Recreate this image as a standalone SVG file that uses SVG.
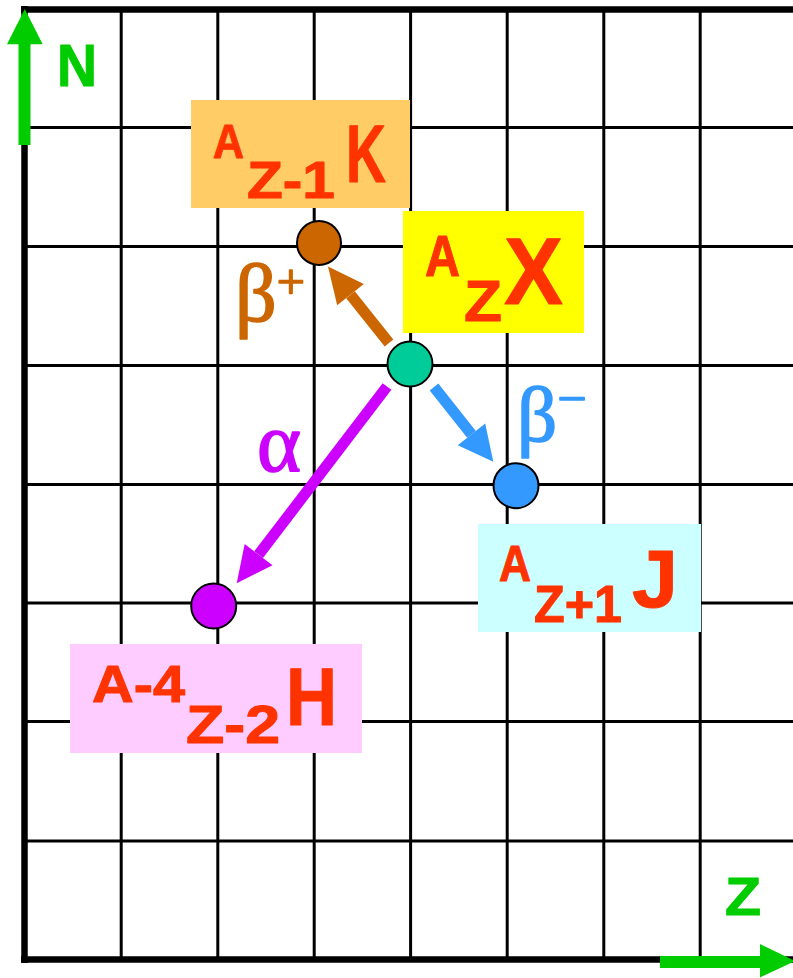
<svg xmlns="http://www.w3.org/2000/svg" width="793" height="978" viewBox="0 0 793 978">
<style>
.grid{stroke:#000;stroke-width:3;fill:none}
.border{stroke:#000;stroke-width:6.5;fill:none}
.lbl{font-family:"Comic Sans MS","Liberation Sans",sans-serif;font-weight:bold;fill:#FF3300;stroke:#FF3300;stroke-width:1;stroke-linejoin:round}
.axis{font-family:"Comic Sans MS","Liberation Sans",sans-serif;font-weight:bold;fill:#00CC00;stroke:#00CC00;stroke-width:1;stroke-linejoin:round}
.greek{font-family:"Liberation Serif","DejaVu Serif",serif;stroke-width:1.6;stroke-linejoin:round}
.node{stroke:#000;stroke-width:2}
</style>
<rect x="0" y="0" width="793" height="978" fill="#fff"/>
<g id="grid">
<path class="grid" d="M121.2 9V960M217.8 9V960M314.2 9V960M410.6 9V960M507.2 9V960M603.8 9V960M700.2 9V960"/>
<path class="grid" d="M24 127.5H793M24 246.5H793M24 365.5H793M24 484.5H793M24 603H793M24 721.5H793M24 841H793"/>
<path class="border" d="M21 9.5H793M24.5 6V963M21 959.5H793"/>
</g>
<g id="node-K">
<rect x="191" y="100" width="219" height="108" fill="#FFCC66"/>
<text class="lbl" x="213" y="158" font-size="49" textLength="31" lengthAdjust="spacingAndGlyphs">A</text>
<text class="lbl" x="247" y="198" font-size="52" textLength="88" lengthAdjust="spacingAndGlyphs">Z-1</text>
<text class="lbl" x="346" y="182" font-size="82" textLength="40" lengthAdjust="spacingAndGlyphs">K</text>
<circle class="node" cx="319" cy="243" r="22" fill="#CC6600"/>
</g>
<g id="node-X">
<rect x="403" y="211" width="181" height="122" fill="#FFFF00"/>
<text class="lbl" x="425" y="276" font-size="57" textLength="35" lengthAdjust="spacingAndGlyphs">A</text>
<text class="lbl" x="464" y="321" font-size="57" textLength="38" lengthAdjust="spacingAndGlyphs">Z</text>
<text class="lbl" x="504" y="304" font-size="94" textLength="59" lengthAdjust="spacingAndGlyphs">X</text>
</g>
<g id="node-J">
<rect x="478" y="524" width="223" height="108" fill="#CCFFFF"/>
<text class="lbl" x="499" y="581" font-size="50" textLength="32" lengthAdjust="spacingAndGlyphs">A</text>
<text class="lbl" x="534" y="622" font-size="52" textLength="88" lengthAdjust="spacingAndGlyphs">Z+1</text>
<text class="lbl" x="632" y="607" font-size="82" textLength="46" lengthAdjust="spacingAndGlyphs">J</text>
</g>
<g id="node-H">
<rect x="70" y="644" width="292" height="109" fill="#FFCCFF"/>
<text class="lbl" x="92" y="702" font-size="52" textLength="93" lengthAdjust="spacingAndGlyphs">A-4</text>
<text class="lbl" x="186" y="743" font-size="53" textLength="94" lengthAdjust="spacingAndGlyphs">Z-2</text>
<text class="lbl" x="286" y="725" font-size="81" textLength="51" lengthAdjust="spacingAndGlyphs">H</text>
</g>
<g id="connectors">
<g id="beta-plus">
<line x1="389" y1="343" x2="350.5" y2="294.7" stroke="#CC6600" stroke-width="11"/>
<polygon points="328,266.5 363.8,284.1 337.2,305.3" fill="#CC6600"/>
<text class="greek" x="235" y="321" font-size="82" fill="#CC6600" stroke="#CC6600">β<tspan font-size="50" y="299">+</tspan></text>
</g>
<g id="beta-minus">
<line x1="434" y1="387" x2="471.5" y2="434.3" stroke="#3399FF" stroke-width="11"/>
<polygon points="493.3,461.7 485.2,423.4 457.8,445.2" fill="#3399FF"/>
<text class="greek" x="517" y="441" font-size="79" fill="#3399FF" stroke="#3399FF">β<tspan font-size="52" y="416">−</tspan></text>
</g>
<g id="alpha">
<line x1="387" y1="386.5" x2="258.6" y2="554.7" stroke="#CC00FF" stroke-width="11"/>
<polygon points="236.7,583.3 272.5,565.3 244.7,544.1" fill="#CC00FF"/>
<text class="greek" x="257" y="471" font-size="84" fill="#CC00FF" stroke="#CC00FF">α</text>
</g>
</g>
<g id="node-X-dot"><circle class="node" cx="410" cy="364" r="22.5" fill="#00CC99"/></g>
<g id="node-J-dot"><circle class="node" cx="516" cy="485.7" r="22.5" fill="#3399FF"/></g>
<g id="node-H-dot"><circle class="node" cx="213.7" cy="606" r="22.5" fill="#CC00FF"/></g>
<g id="axis-N">
<rect x="18.5" y="43" width="12" height="102" fill="#00CC00"/>
<polygon points="7,44.3 42.7,44.3 24.8,9" fill="#00CC00"/>
<text class="axis" x="57" y="86" font-size="60" textLength="40" lengthAdjust="spacingAndGlyphs">N</text>
</g>
<g id="axis-Z">
<rect x="660" y="956" width="101" height="12" fill="#00CC00"/>
<polygon points="760,944 760,977.5 795,961" fill="#00CC00"/>
<text class="axis" x="725" y="915" font-size="53" textLength="36" lengthAdjust="spacingAndGlyphs">Z</text>
</g>
</svg>
